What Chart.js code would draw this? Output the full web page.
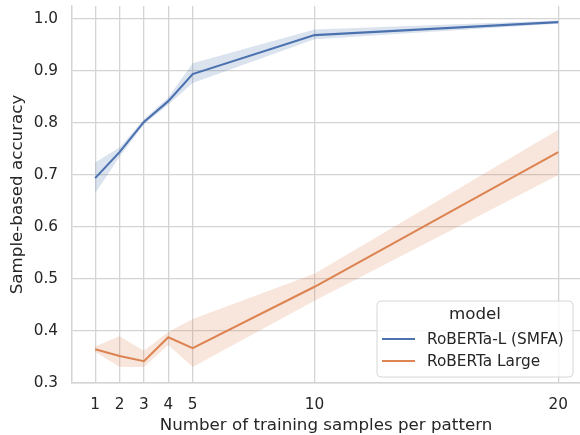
<!DOCTYPE html>
<html lang="en">
<head>
    <meta charset="UTF-8">
    <title>Sample-based accuracy</title>
    <script src="https://cdn.jsdelivr.net/npm/chart.js@4.4.0/dist/chart.umd.min.js"></script>
    <style>
        * { margin: 0; padding: 0; box-sizing: border-box; }
        body { width: 580px; height: 435px; background: #fff; }
        #wrap { width: 580px; height: 435px; }
    </style>
</head>
<body>
<div id="wrap"><canvas id="chart"></canvas></div>
<script>
    // training samples per pattern
    const samples = [1, 2, 3, 4, 5, 10, 20]
    const yTicks = [0.3, 0.4, 0.5, 0.6, 0.7, 0.8, 0.9, 1.0]

    // RoBERTa-L (SMFA)
    const smfaMean = [0.694, 0.744, 0.802, 0.842, 0.894, 0.969, 0.994]
    const smfaLow  = [0.665, 0.735, 0.797, 0.835, 0.877, 0.961, 0.991]
    const smfaHigh = [0.724, 0.753, 0.807, 0.849, 0.915, 0.980, 0.997]

    // RoBERTa Large
    const largeMean = [0.365, 0.352, 0.342, 0.388, 0.367, 0.485, 0.744]
    const largeLow  = [0.360, 0.331, 0.331, 0.373, 0.331, 0.458, 0.700]
    const largeHigh = [0.370, 0.390, 0.362, 0.398, 0.423, 0.510, 0.787]

    const blue = '#4c72b0'
    const orange = '#dd8452'
    const font = 'DejaVu Sans'

    const pts = arr => arr.map((v, i) => ({ x: samples[i], y: v }))

    function band(arr, color, fill) {
        return {
            data: pts(arr), borderWidth: 0, pointRadius: 0, tension: 0,
            backgroundColor: color, fill: fill, isBand: true
        }
    }

    // legend drawn inside the plot, like seaborn's
    const boxLegend = {
        id: 'boxLegend',
        afterDraw(chart) {
            const ctx = chart.ctx
            const x = 377, y = 301, w = 196, h = 76
            ctx.save()
            ctx.beginPath()
            ctx.roundRect(x, y, w, h, 4)
            ctx.fillStyle = 'rgba(255,255,255,0.8)'
            ctx.fill()
            ctx.strokeStyle = '#d6d6d6'
            ctx.lineWidth = 1
            ctx.stroke()
            ctx.fillStyle = '#262626'
            ctx.textBaseline = 'middle'
            ctx.textAlign = 'center'
            ctx.font = '16.7px "' + font + '"'
            ctx.fillText('model', 475, 315)
            ctx.textAlign = 'left'
            ctx.font = '15.3px "' + font + '"'
            const items = chart.data.datasets.filter(d => !d.isBand)
            items.forEach((d, i) => {
                const ly = 339 + i * 22
                ctx.strokeStyle = d.borderColor
                ctx.lineWidth = 2.1
                ctx.beginPath()
                ctx.moveTo(382, ly)
                ctx.lineTo(415, ly)
                ctx.stroke()
                ctx.fillText(d.label, 427, ly + 1)
            })
            ctx.restore()
        }
    }

    const ctx = document.getElementById('chart').getContext('2d')
    new Chart(ctx, {
        type: 'line',
        data: {
            datasets: [
                band(smfaLow, 'rgba(76,114,176,0.2)', false),
                band(smfaHigh, 'rgba(76,114,176,0.2)', '-1'),
                band(largeLow, 'rgba(221,132,82,0.2)', false),
                band(largeHigh, 'rgba(221,132,82,0.2)', '-1'),
                {
                    label: 'RoBERTa-L (SMFA)', data: pts(smfaMean),
                    borderColor: blue, borderWidth: 2.1, pointRadius: 0, fill: false
                },
                {
                    label: 'RoBERTa Large', data: pts(largeMean),
                    borderColor: orange, borderWidth: 2.1, pointRadius: 0, fill: false
                }
            ]
        },
        options: {
            responsive: true,
            maintainAspectRatio: false,
            animation: false,
            layout: { padding: { top: 6, right: 0, left: 0, bottom: 0 } },
            plugins: {
                legend: { display: false },
                tooltip: { enabled: false }
            },
            scales: {
                x: {
                    type: 'linear',
                    min: 0.05,
                    max: 20.89,
                    afterBuildTicks: axis => { axis.ticks = samples.map(v => ({ value: v })) },
                    afterFit: axis => {
                        axis.height = 52
                        axis.paddingLeft = 0
                        axis.paddingRight = 0
                    },
                    grid: { color: '#d4d4d4', lineWidth: 1.3, drawTicks: false },
                    border: { display: true, color: '#d4d4d4', width: 1.5 },
                    ticks: {
                        color: '#262626', padding: 13,
                        font: { family: font, size: 15.3 },
                        callback: v => String(v)
                    },
                    title: {
                        display: true, text: 'Number of training samples per pattern',
                        color: '#262626', font: { family: font, size: 16.7, lineHeight: 1.1 },
                        padding: { top: 0, bottom: 0 }
                    }
                },
                y: {
                    min: 0.3,
                    max: 1.025,
                    afterBuildTicks: axis => { axis.ticks = yTicks.map(v => ({ value: v })) },
                    afterFit: axis => {
                        axis.width = 72
                        axis.paddingTop = 0
                        axis.paddingBottom = 0
                    },
                    grid: { color: '#d4d4d4', lineWidth: 1.3, drawTicks: false },
                    border: { display: true, color: '#d4d4d4', width: 1.5 },
                    ticks: {
                        color: '#262626', padding: 14,
                        font: { family: font, size: 15.3 },
                        callback: v => v.toFixed(1)
                    },
                    title: {
                        display: true, text: 'Sample-based accuracy',
                        color: '#262626', font: { family: font, size: 16.7, lineHeight: 1.2 },
                        padding: { top: 8, bottom: 0 }
                    }
                }
            }
        },
        plugins: [boxLegend]
    })
</script>
</body>
</html>
